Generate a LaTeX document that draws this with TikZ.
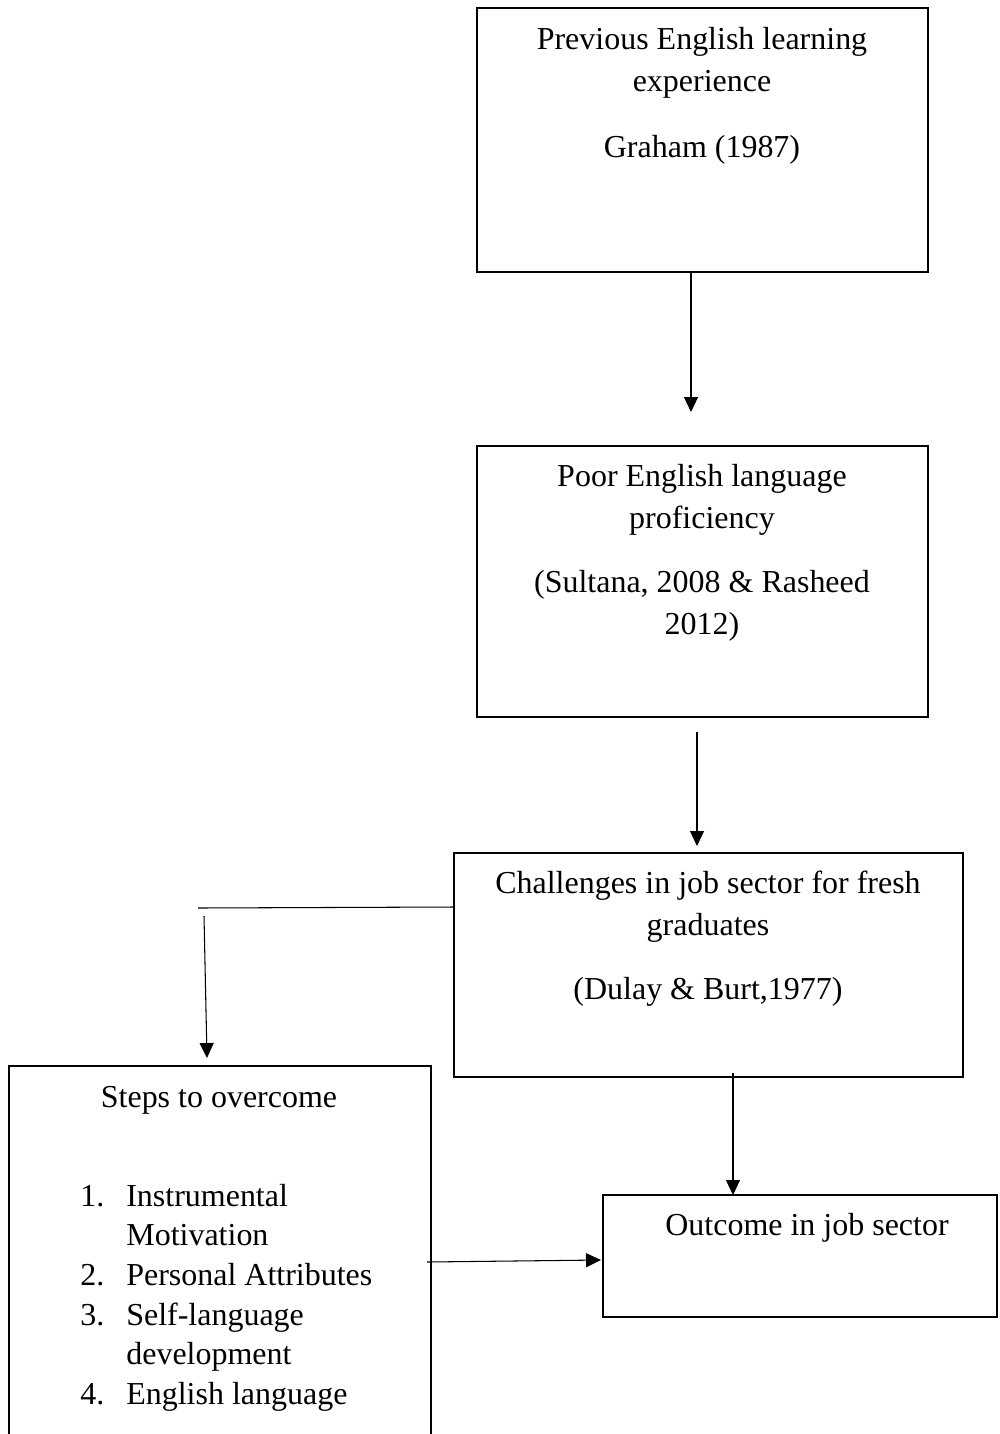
\documentclass[tikz,border=0pt]{standalone}
\usepackage{fontspec}
\setmainfont{Liberation Serif}
\usepackage{tikz}
\usetikzlibrary{arrows.meta, positioning}

\begin{document}
\begin{tikzpicture}[x=0.02cm, y=-0.02cm]
\tikzstyle{framebox} = [rectangle, draw, line width=1.3pt, inner sep=0pt]
\tikzstyle{caption} = [align=center, inner sep=0pt, font=\fontsize{18.2}{23.9}\selectfont]
\tikzstyle{arrow} = [line width=0.6pt, -{Triangle[length=0.3cm, width=0.28cm]}]
\tikzstyle{link} = [line width=0.6pt]

\clip (0,0) rectangle (1000,1434);

% boxes
\node (prev) [framebox, minimum width=9.02cm, minimum height=5.28cm] at (702.5,140) {};
\node (poor) [framebox, minimum width=9.02cm, minimum height=5.42cm] at (702.5,581.5) {};
\node (chal) [framebox, minimum width=10.18cm, minimum height=4.48cm] at (708.5,965) {};
\node (steps) [framebox, minimum width=8.44cm, minimum height=8.2cm] at (220,1271) {};
\node (outc) [framebox, minimum width=7.88cm, minimum height=2.44cm] at (800,1256) {};

% texts
\node (prevtxt) [caption, anchor=north] at (702,27) {Previous English learning\\experience};
\node (prevref) [caption] at (702,150) {Graham (1987)};
\node (poortxt) [caption, anchor=north] at (702,464) {Poor English language\\proficiency};
\node (poorref) [caption, anchor=north] at (702,570) {(Sultana, 2008 \& Rasheed\\2012)};
\node (chaltxt) [caption, anchor=north] at (708,871) {Challenges in job sector for fresh\\graduates};
\node (chalref) [caption] at (708,992) {(Dulay \& Burt,1977)};
\node (stepstxt) [caption] at (219,1100) {Steps to overcome};
\node (stepslist) [caption, anchor=north west, align=left] at (80,1178) {%
  \fontsize{18.2}{22.6}\selectfont
  \begin{tabular}{@{}p{0.92cm}@{}l@{}}
  1. & Instrumental\\
     & Motivation\\
  2. & Personal Attributes\\
  3. & Self-language\\
     & development\\
  4. & English language
  \end{tabular}};
\node (outctxt) [caption] at (807,1228) {Outcome in job sector};

% connectors
\coordinate (a1s) at (691,272);
\coordinate (a1e) at (691,412);
\coordinate (a2s) at (697,732);
\coordinate (a2e) at (697,846);
\coordinate (l3s) at (454,907);
\coordinate (l3e) at (198,908);
\coordinate (a3s) at (204,916);
\coordinate (a3e) at (207,1058);
\coordinate (a4s) at (427,1262);
\coordinate (a4e) at (601,1260);
\coordinate (a5s) at (733,1073);
\coordinate (a5e) at (733,1195);

\draw [arrow] (a1s) -- (a1e);
\draw [arrow] (a2s) -- (a2e);
\draw [link] (l3s) -- (l3e);
\draw [arrow] (a3s) -- (a3e);
\draw [arrow] (a4s) -- (a4e);
\draw [arrow] (a5s) -- (a5e);

\end{tikzpicture}
\end{document}
